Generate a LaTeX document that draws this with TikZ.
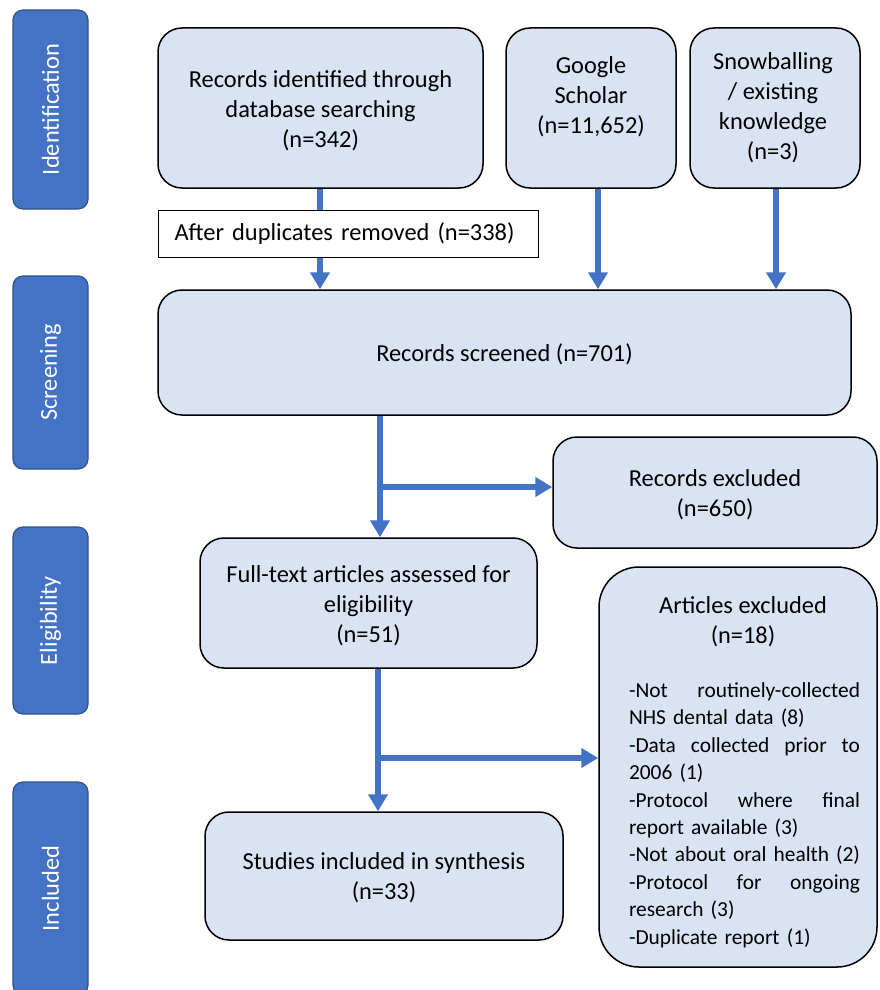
\documentclass[tikz,border=0pt]{standalone}
\usepackage{fontspec}
\setmainfont{Carlito}
\usetikzlibrary{arrows.meta,backgrounds}
\definecolor{boxfill}{HTML}{DAE3F3}
\definecolor{arrblue}{HTML}{4472C4}
\definecolor{phaseborder}{HTML}{2F528F}
\newcommand\jline[1]{\makebox[231pt][l]{#1}}
\begin{document}
\begin{tikzpicture}[x=1pt,y=-1pt,
  box/.style={draw=black, line width=1.5pt, fill=boxfill, rounded corners=24pt, inner sep=0pt, align=center, font=\fontsize{24.4}{30}\selectfont},
  txt/.style={inner sep=0pt, align=center, font=\fontsize{24.4}{30}\selectfont},
  phase/.style={draw=phaseborder, line width=1.2pt, fill=arrblue, rounded corners=10pt, text=white, rotate=90, font=\fontsize{24.4}{28}\selectfont, inner sep=0pt, minimum height=75pt},
  arr/.style={draw=arrblue, line width=6.5pt, -{Triangle[width=19pt,length=17pt]}}]
\useasboundingbox (0,0) rectangle (879,990);

% phase bars
\node[phase, minimum width=199pt] (p1) at (50.5,109.5) {Identification};
\node[phase, minimum width=193pt] (p2) at (50.5,372.5) {Screening};
\node[phase, minimum width=187pt] (p3) at (50.5,620.5) {Eligibility};
\node[phase, minimum width=213pt] (p4) at (50.5,888.5) {Included};

% boxes
\node[box, minimum width=325pt, minimum height=160pt] (rid) at (320.5,108) {};
\node[txt] (ridt) at (320.5,110.5) {Records identified through\\database searching\\(n=342)};
\node[box, minimum width=170pt, minimum height=160pt] (gs) at (591,108) {};
\node[txt] (gst) at (591,96.5) {Google\\Scholar\\(n=11,652)};
\node[box, minimum width=170pt, minimum height=160pt] (sb) at (775,108) {};
\node[txt] (sbt) at (773,107.5) {Snowballing\\/ existing\\knowledge\\(n=3)};
\node[draw=black, line width=1pt, fill=white, inner xsep=16pt, inner ysep=0pt, text width=348pt, minimum height=47pt, align=left, font=\fontsize{24.4}{30}\selectfont, anchor=west] (dup) at (158,233.5) {\raisebox{-2.5pt}{After duplicates removed (n=338)}};
\node[box, minimum width=693pt, minimum height=125pt] (scr) at (504.5,352.5) {};
\node[txt] (scrt) at (504.5,354.5) {Records screened (n=701)};
\node[box, minimum width=324pt, minimum height=111pt] (rex) at (715,492.5) {};
\node[txt] (rext) at (715,494.5) {Records excluded\\(n=650)};
\node[box, minimum width=337pt, minimum height=130pt] (ft) at (368.5,603) {};
\node[txt] (ftt) at (368.5,605.5) {Full-text articles assessed for\\eligibility\\(n=51)};
\node[box, rounded corners=40pt, minimum width=278pt, minimum height=400pt] (aex) at (738,767) {};
\node[txt] (aexh) at (743,622) {Articles excluded\\(n=18)};
\node[inner sep=0pt, align=left, text width=231pt, font=\fontsize{21.4}{27.4}\selectfont] (aexl) at (744.5,815) {%
\jline{-Not\hfill routinely-collected}\\
NHS dental data (8)\\
\jline{-Data\hfill collected\hfill prior\hfill to}\\
2006 (1)\\
\jline{-Protocol\hfill where\hfill final}\\
report available (3)\\
\jline{-Not\hfill about\hfill oral\hfill health\hfill (2)}\\
\jline{-Protocol\hfill for\hfill ongoing}\\
research (3)\\
-Duplicate report (1)};
\node[box, minimum width=358pt, minimum height=128pt] (inc) at (384,876) {};
\node[txt] (inct) at (384,878) {Studies included in synthesis\\(n=33)};

% connectors
\coordinate (c1) at (320,0);
\coordinate (c2) at (598,0);
\coordinate (c3) at (776,0);
\coordinate (b1) at (380,487);
\coordinate (b2) at (378,758);
\begin{scope}[on background layer]
\draw[arr] (c1 |- rid.south) -- (c1 |- scr.north);
\end{scope}
\draw[arr] (c2 |- gs.south) -- (c2 |- scr.north);
\draw[arr] (c3 |- sb.south) -- (c3 |- scr.north);
\draw[arr] (b1 |- scr.south) -- (b1 |- ft.north);
\draw[arr] ([xshift=-3.25pt]b1) -- (rex.west |- b1);
\draw[arr] (b2 |- ft.south) -- (b2 |- inc.north);
\draw[arr] ([xshift=-3.25pt]b2) -- (aex.west |- b2);
\end{tikzpicture}
\end{document}
